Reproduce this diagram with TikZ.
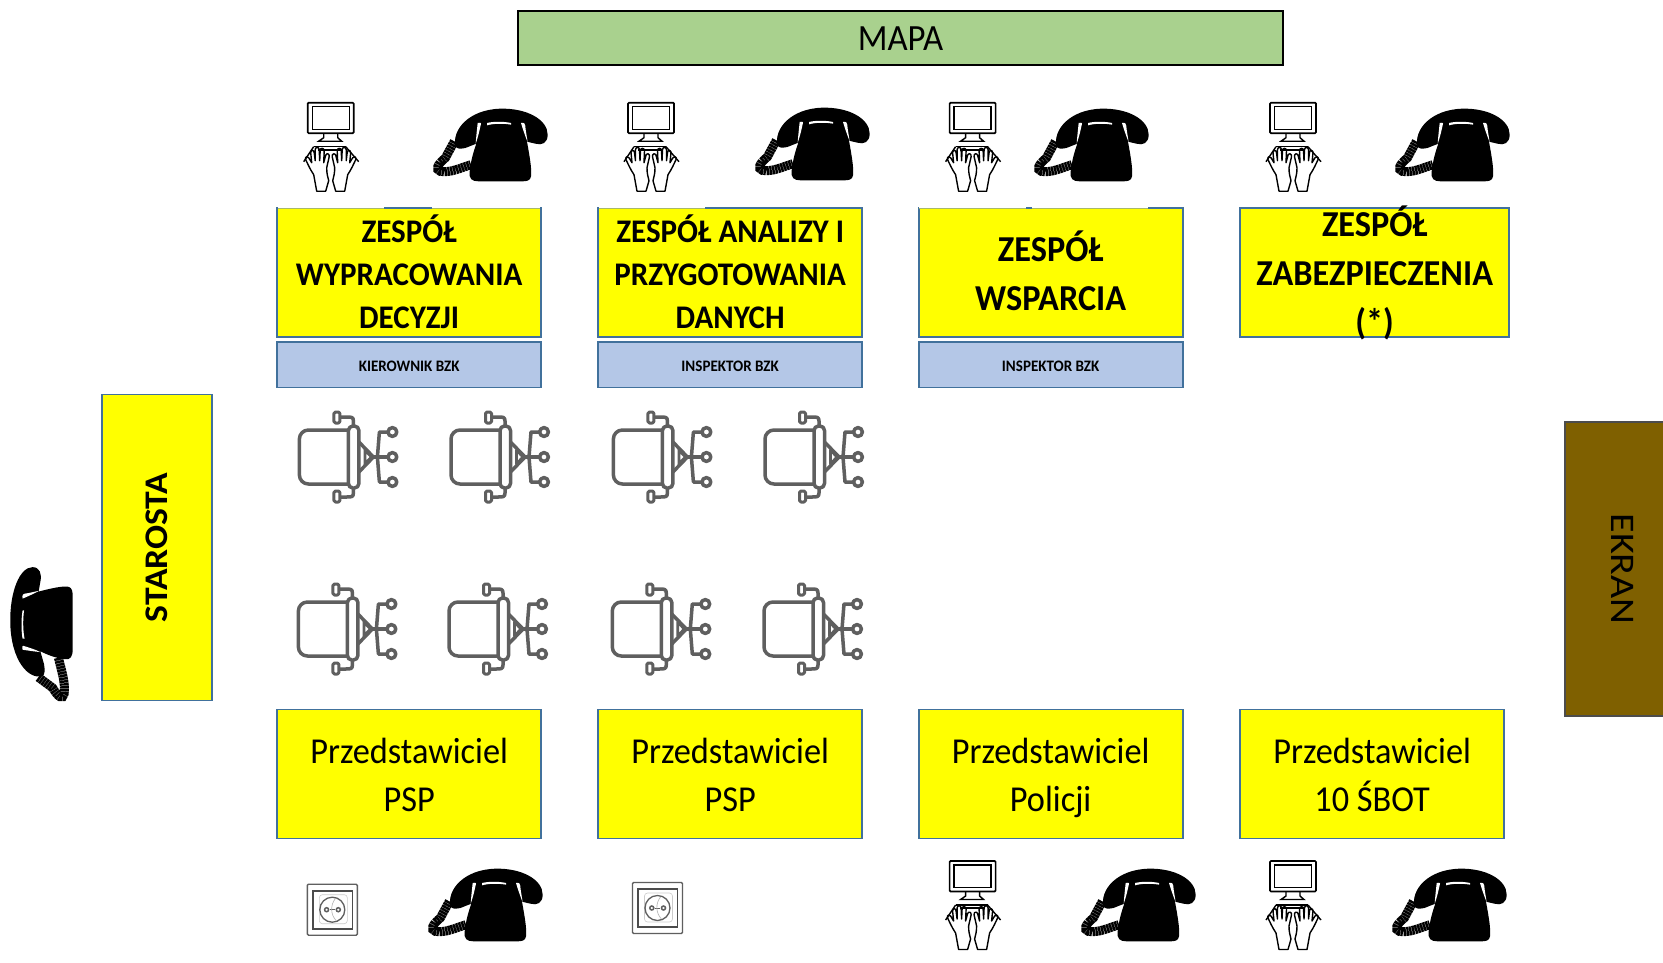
\documentclass[tikz,border=0pt]{standalone}
\usepackage{fontspec}
\setmainfont{Carlito}
\newfontfamily\tallf[FakeStretch=0.94]{Carlito}
\newfontfamily\widef[FakeStretch=1.16]{Carlito}
\newfontfamily\midf[FakeStretch=1.08]{Carlito}
\newcommand{\linesat}[2]{\raisebox{\dimexpr-.25em+#1pt\relax}[0pt][0pt]{\begin{tabular}{@{}c@{}}#2\end{tabular}}}
\definecolor{yel}{HTML}{FFFF00}
\definecolor{bordb}{HTML}{41719C}
\definecolor{lblue}{HTML}{B4C7E7}
\definecolor{grn}{HTML}{A9D18E}
\definecolor{brn}{HTML}{7F6000}
\definecolor{chairc}{HTML}{5F5F5F}
\definecolor{thinl}{HTML}{A8B86A}
\tikzset{
 x=1pt,y=-1pt,
 ybox/.style={draw=bordb,line width=1.7pt,fill=yel,anchor=north west,inner sep=0pt,text=black},
 bbox/.style={draw=bordb,line width=1.7pt,fill=lblue,anchor=north west,inner sep=0pt,text=black,font=\tallf\bfseries\fontsize{16}{18}\selectfont},
 headb/.style={font=\tallf\bfseries\fontsize{33}{43}\selectfont},
 headc/.style={font=\tallf\bfseries\fontsize{36.5}{49}\selectfont},
 reprt/.style={font=\tallf\fontsize{36.5}{48}\selectfont},
 phone/.pic={
  \begin{scope}[x=.3333pt,y=-.3333pt,shift={(-692,-196)}]
   \fill[black] (585,200) .. controls (575,150) and (625,90) .. (720,87) .. controls (800,85) and (862,120) .. (862,165)
     .. controls (862,190) and (845,198) .. (825,192) -- (800,186) .. controls (808,230) and (815,270) .. (812,290)
     .. controls (810,303) and (800,305) .. (785,305) -- (655,305) .. controls (635,305) and (625,298) .. (628,275)
     .. controls (632,240) and (640,215) .. (648,192) -- (615,205) .. controls (600,208) and (590,208) .. (585,200) -- cycle;
   \fill[white] (680,130) .. controls (700,125) and (730,125) .. (752,130) -- (752,135) .. controls (730,131) and (700,131) .. (680,137) -- cycle;
   \fill[white] (652,130) .. controls (662,128) and (662,130) .. (662,132) .. controls (658,150) and (654,170) .. (646,192) .. controls (648,165) and (650,150) .. (652,130) -- cycle;
   \fill[white] (782,130) .. controls (792,128) and (795,130) .. (796,150) -- (802,188) .. controls (795,170) and (788,150) .. (782,130) -- cycle;
   \draw[black,line width=9pt,dash pattern=on 2.4pt off .5pt] (582,185) -- (555,235) .. controls (530,255) and (525,270) .. (540,275) .. controls (570,280) and (600,265) .. (632,255);
  \end{scope}
 },
 hand/.pic={
  \draw[black,line width=1.4pt,line join=round,line cap=round] (-5,44.5) -- (-14,44.5) -- (-17,28) .. controls (-21,22) and (-23,17) .. (-25,13) .. controls (-26,10) and (-23,9) .. (-22,11) -- (-19,16)
   -- (-20,6) .. controls (-20,3) and (-16.5,3) .. (-16.5,6) -- (-15.5,14) -- (-15.5,3) .. controls (-15.5,0) and (-11.5,0) .. (-11.5,3) -- (-11,14) -- (-10.5,3.5) .. controls (-10.5,1) and (-6.5,1) .. (-6.5,4) -- (-7,16) -- (-5,8.5) .. controls (-4,6) and (-1,7) .. (-1.5,10) -- (-4,21) .. controls (-4,27) and (-3,30) .. (-2,34) -- (-5,44.5);
 },
 computer/.pic={
  \draw[black,line width=1.7pt,rounded corners=1pt] (-23,-44) rectangle (23,-13.5);
  \draw[black,line width=1.3pt] (-18.5,-40) rectangle (18.5,-17.5);
  \draw[black,line width=1.4pt] (-7,-13.5) -- (-7,-9) -- (-12,-5.5) -- (11,-5.5) -- (7,-9) -- (7,-13.5);
  \draw[black,line width=1.4pt,line join=round] (-17,0) -- (15,0);
  \draw[black,line width=1.6pt,line join=round] (-13,3) -- (12,3);
  \draw[black,line width=1.4pt,line join=round] (-27,15) -- (-17,0);
  \draw[black,line width=1.4pt,line join=round] (28,15) -- (15,0);
  \pic at (0,0) {hand};
  \pic[xscale=-1] at (0,0) {hand};
 },
 chair/.pic={
  \begin{scope}[chairc,line width=3.5pt,line join=round]
   \draw[rounded corners=9pt] (2,-27) -- (-47,-27) -- (-47,27) -- (2,27);
   \draw[rounded corners=4.5pt] (2,-31) rectangle (12.5,31);
   \draw (7,-31) -- (7,-36) .. controls (7,-40) and (5,-40) .. (0,-40) -- (-6,-40);
   \draw (7,31) -- (7,36) .. controls (7,40) and (5,40) .. (0,40) -- (-6,40);
   \draw[line width=3pt,rounded corners=1.5pt] (-12.5,-45) rectangle (-6.5,-34);
   \draw[line width=3pt,rounded corners=1.5pt] (-12.5,34) rectangle (-6.5,45);
   \draw (12.5,-15) -- (27,0) -- (12.5,15);
   \draw[line width=2.8pt] (18.5,-7) -- (25,0) -- (18.5,7) -- cycle;
   \draw (27,0) -- (42,0);
   \draw (41,-25) -- (33,-25) -- (31,0) -- (33,25) -- (41,25);
   \draw[fill=white] (46,-25) circle (4.4);
   \draw[fill=white] (46,0) circle (4.4);
   \draw[fill=white] (46,25) circle (4.4);
  \end{scope}
 },
 socket/.pic={
  \draw[chairc,line width=1.4pt,rounded corners=1.2pt] (-25,-25.5) rectangle (25,25.5);
  \draw[chairc!80!black,line width=1.6pt] (-19.5,-19) rectangle (20,19);
  \draw[gray!40,line width=.6pt,rounded corners=3pt] (-13,-15) rectangle (15,14);
  \draw[chairc,line width=1.3pt] (0,0) circle (12.5);
  \draw[chairc,line width=1.5pt] (-5.7,0) circle (2);
  \draw[chairc,line width=1.5pt] (6,0) circle (2);
  \draw[chairc,line width=.7pt] (-2.5,0) -- (2.8,0);
  \draw[gray!60,line width=.6pt] (3,-11) .. controls (-2,-5) and (-2,5) .. (4,11);
 }
}
\begin{document}
\begin{tikzpicture}
\useasboundingbox (0,0) rectangle (1663,962);
\fill[white] (0,0) rectangle (1663,962);
% map, side
\node[draw=black,line width=1.7pt,fill=grn,minimum width=765,minimum height=54,inner sep=0pt,font=\tallf\fontsize{37}{40}\selectfont] (mapa) at (900.5,38) {\linesat{-1.5}{MAPA}};
\node[draw=bordb,line width=1.7pt,fill=yel,minimum width=110,minimum height=306,inner sep=0pt] (sta) at (157,547.5) {};
\node[rotate=90,font=\midf\bfseries\fontsize{33}{38}\selectfont] (statxt) at (157,547.5) {STAROSTA};
\node[draw=black!70,line width=1.7pt,fill=brn,minimum width=100,minimum height=294,inner sep=0pt] (ekr) at (1615,569) {};
\node[rotate=-90,font=\widef\fontsize{34.5}{38}\selectfont] (ekrtxt) at (1623,569) {EKRAN};
% heads
\node[ybox,minimum width=264,minimum height=129,headb] (z1) at (276.3,207.3) {\linesat{-2}{ZESPÓŁ\\WYPRACOWANIA\\DECYZJI}};
\node[ybox,minimum width=264,minimum height=129,headb] (z2) at (597.3,207.3) {\linesat{-2}{ZESPÓŁ ANALIZY I\\PRZYGOTOWANIA\\DANYCH}};
\node[ybox,minimum width=264,minimum height=129,headc] (z3) at (917.8,207.3) {\linesat{-1}{ZESPÓŁ\\WSPARCIA}};
\node[ybox,minimum width=269,minimum height=129,headc] (z4) at (1239.3,207.3) {\linesat{-0.5}{ZESPÓŁ\\ZABEZPIECZENIA\\(*)}};
\node[bbox,minimum width=264,minimum height=45.5] (b1) at (276.3,341) {\linesat{-4}{KIEROWNIK BZK}};
\node[bbox,minimum width=264,minimum height=45.5] (b2) at (597.3,341) {\linesat{-4}{INSPEKTOR BZK}};
\node[bbox,minimum width=264,minimum height=45.5] (b3) at (917.8,341) {\linesat{-4}{INSPEKTOR BZK}};
% lower
\node[ybox,minimum width=264,minimum height=129,reprt] (p1) at (276.3,708.7) {\linesat{-1}{Przedstawiciel\\PSP}};
\node[ybox,minimum width=264,minimum height=129,reprt] (p2) at (597.3,708.7) {\linesat{-1}{Przedstawiciel\\PSP}};
\node[ybox,minimum width=264,minimum height=129,reprt] (p3) at (917.8,708.7) {\linesat{-1}{Przedstawiciel\\Policji}};
\node[ybox,minimum width=264,minimum height=129,reprt] (p4) at (1239.3,708.7) {\linesat{-1}{Przedstawiciel\\10 ŚBOT}};
% top edges hidden by icons
\foreach \a/\b in {277.5/384,432/539.5,598.5/705,919/1026,1032/1148}{
 \fill[white] (\a,205.5) rectangle (\b,208);
 \fill[thinl] (\a,207.6) rectangle (\b,208.3);
}
% icons
\foreach \x/\y in {330.7/146.7,651/146.7,972.6/146.7,1293/146.7,972.6/905,1293/905} \pic at (\x,\y) {computer};
\foreach \x/\y in {491/145,813/144,1092/145,1453/145,486/905,1139/905,1450/905} \pic at (\x,\y) {phone};
\pic[rotate=90,xscale=1.18,yscale=.86] at (41.5,634) {phone};
\foreach \x/\y in {346.4/457,498/457,660.4/457,812/457,345.4/629,496/629,659.3/629,811/629} \pic at (\x,\y) {chair};
\pic at (332.3,909.7) {socket};
\pic at (657.5,908) {socket};
\end{tikzpicture}
\end{document}
